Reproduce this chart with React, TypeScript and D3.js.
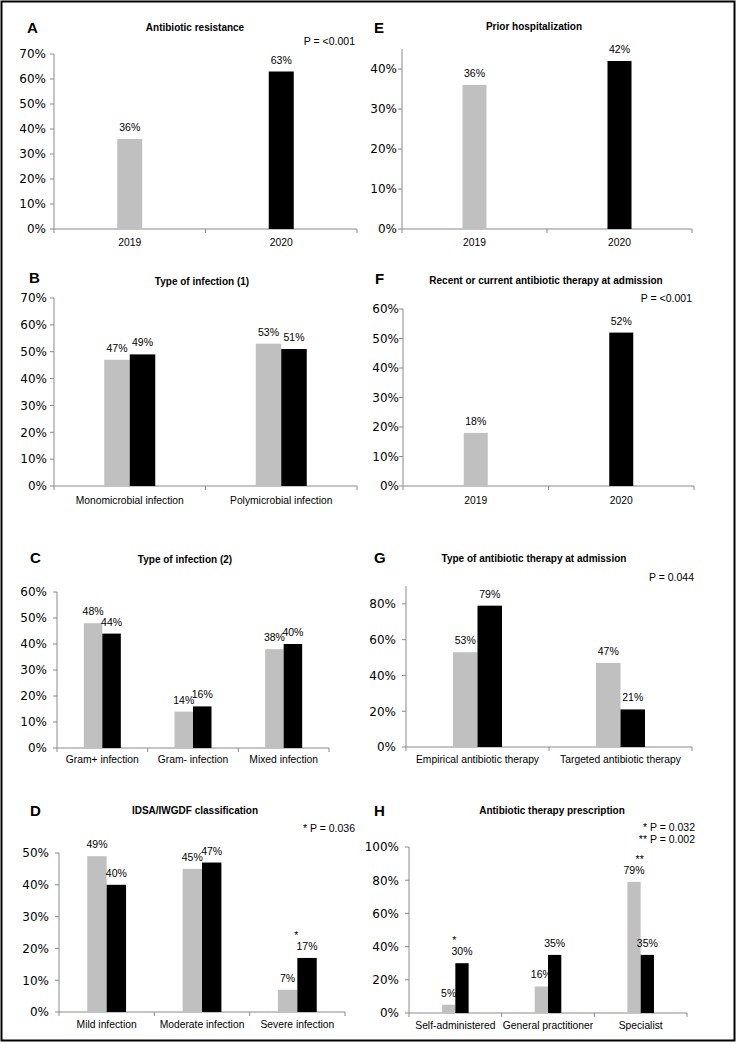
import React from "react";
import * as d3 from "d3";

// ---------- data ----------
const catsA = ["2019", "2020"];
const valsA = [36, 63];

const catsE = ["2019", "2020"];
const valsE = [36, 42];

const catsB = ["Monomicrobial infection", "Polymicrobial infection"];
const b2019 = [47, 53];
const b2020 = [49, 51];

const catsF = ["2019", "2020"];
const valsF = [18, 52];

const catsC = ["Gram+ infection", "Gram- infection", "Mixed infection"];
const c2019 = [48, 14, 38];
const c2020 = [44, 16, 40];

const catsG = ["Empirical antibiotic therapy", "Targeted antibiotic therapy"];
const g2019 = [53, 47];
const g2020 = [79, 21];

const catsD = ["Mild infection", "Moderate infection", "Severe infection"];
const d2019 = [49, 45, 7];
const d2020 = [40, 47, 17];
const starsD = ["", "", "*"];

const catsH = ["Self-administered", "General practitioner", "Specialist"];
const h2019 = [5, 16, 79];
const h2020 = [30, 35, 35];
const starsH = ["*", "", "**"];

const GRAY = "#c0c0c0";
const BLACK = "#000000";
const AXIS = "#8a8a8a";
const SANS = "'Liberation Sans', Arial, sans-serif";
const TICKFONT = "'DejaVu Sans', Verdana, sans-serif";

type Panel = {
  letter: string;
  title: string;
  cats: string[];
  series: number[][]; // one or two series
  single?: boolean;
  stars?: string[];
  pText?: string[];
  x0: number; x1: number; y0: number; max: number; pxTop: number; step: number;
  barW: number; tickGap: number;
  letterX: number; letterY: number;
  titleX: number; titleY: number;
  pX?: number; pY?: number;
  catY: number;
};

const panels: Panel[] = [
  {
    letter: "A", title: "Antibiotic resistance", cats: catsA, series: [valsA], single: true,
    pText: ["P = <0.001"],
    x0: 54, x1: 357, y0: 229, max: 70, pxTop: 54, step: 10, barW: 25, tickGap: 8,
    letterX: 27, letterY: 33, titleX: 195, titleY: 31, pX: 355, pY: 45, catY: 246,
  },
  {
    letter: "E", title: "Prior hospitalization", cats: catsE, series: [valsE], single: true,
    x0: 402, x1: 692, y0: 229, max: 45, pxTop: 49, step: 10, barW: 24, tickGap: 5,
    letterX: 374, letterY: 33, titleX: 534, titleY: 30, catY: 246,
  },
  {
    letter: "B", title: "Type of infection (1)", cats: catsB, series: [b2019, b2020],
    x0: 54, x1: 357, y0: 486, max: 70, pxTop: 298, step: 10, barW: 25.5, tickGap: 7,
    letterX: 29, letterY: 283, titleX: 202, titleY: 285, catY: 504,
  },
  {
    letter: "F", title: "Recent or current antibiotic therapy at admission", cats: catsF, series: [valsF], single: true,
    pText: ["P = <0.001"],
    x0: 403, x1: 694, y0: 486, max: 60, pxTop: 309, step: 10, barW: 24, tickGap: 4,
    letterX: 375, letterY: 284, titleX: 546, titleY: 284, pX: 692, pY: 302, catY: 504,
  },
  {
    letter: "C", title: "Type of infection (2)", cats: catsC, series: [c2019, c2020],
    x0: 57, x1: 329, y0: 748, max: 60, pxTop: 592, step: 10, barW: 18.5, tickGap: 10,
    letterX: 30, letterY: 563, titleX: 185, titleY: 563, catY: 763,
  },
  {
    letter: "G", title: "Type of antibiotic therapy at admission", cats: catsG, series: [g2019, g2020],
    pText: ["P = 0.044"],
    x0: 406, x1: 692, y0: 747, max: 90, pxTop: 586, step: 20, barW: 24.5, tickGap: 10,
    letterX: 374, letterY: 563, titleX: 534, titleY: 562, pX: 694, pY: 581, catY: 763,
  },
  {
    letter: "D", title: "IDSA/IWGDF classification", cats: catsD, series: [d2019, d2020], stars: starsD,
    pText: ["* P = 0.036"],
    x0: 59, x1: 345, y0: 1012, max: 50, pxTop: 853, step: 10, barW: 19.4, tickGap: 10,
    letterX: 30, letterY: 816, titleX: 195, titleY: 814, pX: 355, pY: 832, catY: 1028,
  },
  {
    letter: "H", title: "Antibiotic therapy prescription", cats: catsH, series: [h2019, h2020], stars: starsH,
    pText: ["* P = 0.032", "** P = 0.002"],
    x0: 409, x1: 687, y0: 1013, max: 100, pxTop: 847, step: 20, barW: 13.3, tickGap: 10,
    letterX: 374, letterY: 816, titleX: 552, titleY: 814, pX: 695, pY: 831, catY: 1029,
  },
];

function ChartPanel({ p }: { p: Panel }) {
  const x = d3.scaleBand<string>().domain(p.cats).range([p.x0, p.x1]).padding(0);
  const y = d3.scaleLinear().domain([0, p.max]).range([p.y0, p.pxTop]);
  const ticks = d3.range(0, p.max + 0.0001, p.step);
  const bw = x.bandwidth();
  const bounds = p.cats.map((c) => x(c) as number).concat([p.x1]);

  const bars: { x: number; v: number; color: string; cx: number }[] = [];
  p.cats.forEach((c, i) => {
    const center = (x(c) as number) + bw / 2;
    if (p.single) {
      const v = p.series[0][i];
      bars.push({ x: center - p.barW / 2, v, color: i === 0 ? GRAY : BLACK, cx: center });
    } else {
      bars.push({ x: center - p.barW, v: p.series[0][i], color: GRAY, cx: center - p.barW / 2 });
      bars.push({ x: center, v: p.series[1][i], color: BLACK, cx: center + p.barW / 2 });
    }
  });

  return (
    <g>
      {/* panel letter and title */}
      <text x={p.letterX} y={p.letterY} fontFamily={SANS} fontWeight="bold" fontSize={15}>{p.letter}</text>
      <text x={p.titleX} y={p.titleY} textAnchor="middle" fontFamily={SANS} fontWeight="bold" fontSize={10}>{p.title}</text>
      {p.pText && p.pText.map((t, i) => (
        <text key={i} x={p.pX} y={(p.pY as number) + i * 12} textAnchor="end" fontFamily={SANS} fontSize={10.5}>{t}</text>
      ))}

      {/* axes */}
      <line x1={p.x0} x2={p.x0} y1={p.y0} y2={p.pxTop} stroke={AXIS} strokeWidth={1} />
      <line x1={p.x0} x2={p.x1} y1={p.y0} y2={p.y0} stroke={AXIS} strokeWidth={1} />
      {ticks.map((t) => (
        <g key={t}>
          <line x1={p.x0 - 4} x2={p.x0} y1={y(t)} y2={y(t)} stroke={AXIS} strokeWidth={1} />
          <text x={p.x0 - p.tickGap} y={y(t)} dy="0.36em" textAnchor="end" fontFamily={TICKFONT} fontSize={12}>{`${t}%`}</text>
        </g>
      ))}
      {bounds.map((bx, i) => (
        <line key={i} x1={bx} x2={bx} y1={p.y0} y2={p.y0 + 4} stroke={AXIS} strokeWidth={1} />
      ))}

      {/* bars */}
      {bars.map((b, i) => (
        <g key={i}>
          <rect x={b.x} y={y(b.v)} width={p.barW} height={p.y0 - y(b.v)} fill={b.color} />
          <text x={b.cx} y={y(b.v) - 8} textAnchor="middle" fontFamily={SANS} fontSize={10.5}>{`${b.v}%`}</text>
        </g>
      ))}

      {/* significance stars */}
      {p.stars && p.cats.map((c, i) => {
        const s = p.stars![i];
        if (!s) return null;
        const center = (x(c) as number) + bw / 2;
        const top = Math.max(p.series[0][i], p.series[1][i]);
        return (
          <text key={i} x={center - 1} y={y(top) - 19} textAnchor="middle" fontFamily={SANS} fontSize={10.5}>{s}</text>
        );
      })}

      {/* category labels */}
      {p.cats.map((c) => (
        <text key={c} x={(x(c) as number) + bw / 2} y={p.catY} textAnchor="middle" fontFamily={SANS} fontSize={10.3}>{c}</text>
      ))}
    </g>
  );
}

export default function App() {
  return (
    <svg
      width={738}
      height={1044}
      style={{ position: "absolute", left: 0, top: 0, background: "#fff" }}
    >
      <rect x={0} y={0} width={738} height={1044} fill="#fff" />
      <rect x={1.5} y={1.5} width={733} height={1039} fill="none" stroke="#000" strokeWidth={2} />
      {panels.map((p) => (
        <ChartPanel key={p.letter} p={p} />
      ))}
    </svg>
  );
}
